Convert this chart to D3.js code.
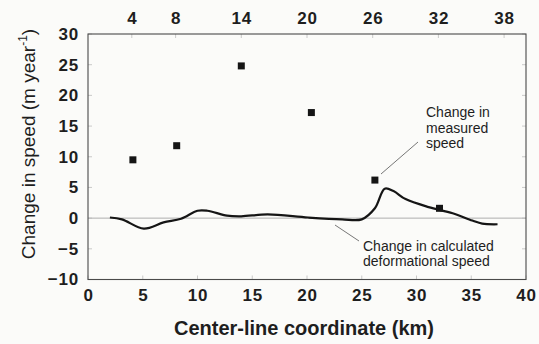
<!DOCTYPE html>
<html>
<head>
<meta charset="utf-8">
<script src="https://cdn.jsdelivr.net/npm/d3@7"></script>
<style>
  html, body { margin: 0; padding: 0; background: #fbfbf9; }
  svg { display: block; }
  text { font-family: "Liberation Sans", Arial, sans-serif; fill: #1e1e1e; }
</style>
</head>
<body>
<svg id="chart" width="539" height="344"></svg>
<script>
// Measured change in speed at the survey points along the center line
const measuredKm = [4.1, 8.1, 14, 20.4, 26.2, 32.1];
const measuredChange = [9.5, 11.8, 24.8, 17.2, 6.2, 1.6];

// Calculated change in deformational speed along the center line
const calcKm = [2.0, 3.1, 5.1, 6.9, 8.5, 10.0, 10.9, 12.7, 14.0, 16.4, 20.1, 23.2, 25.0, 26.2, 27.1, 27.9, 29.0, 31.1, 33.3, 35.1, 36.0, 37.4];
const calcChange = [0.1, -0.2, -1.7, -0.7, -0.1, 1.2, 1.2, 0.4, 0.3, 0.6, 0.1, -0.2, -0.2, 1.6, 4.8, 4.4, 3.1, 1.8, 0.8, -0.4, -0.9, -1.0];

// Axis ticks
const xTicks = [0, 5, 10, 15, 20, 25, 30, 35, 40];
const yTicks = [-10, -5, 0, 5, 10, 15, 20, 25, 30];
const topTicks = [4, 8, 14, 20, 26, 32, 38];

const svg = d3.select("#chart");
const plotL = 88, plotR = 526, plotT = 34, plotB = 279.5;

const x = d3.scaleLinear().domain([0, 40]).range([plotL, plotR]);
const y = d3.scaleLinear().domain([-10, 30]).range([plotB, plotT]);

// zero reference line
svg.append("line")
  .attr("x1", plotL).attr("x2", plotR)
  .attr("y1", y(0)).attr("y2", y(0))
  .attr("stroke", "#9a9a9a").attr("stroke-width", 0.8);

function styleLabels(g) {
  g.select(".domain").remove();
  g.selectAll("text").attr("font-size", 17).attr("font-weight", "bold")
    .attr("letter-spacing", 0.8)
    .style("font-family", "'Liberation Sans', Arial, sans-serif").attr("fill", "#1e1e1e");
}

// bottom axis labels
const xAxis = d3.axisBottom(x).tickValues(xTicks).tickSize(0).tickPadding(9.5);
svg.append("g").attr("transform", `translate(0,${plotB})`).call(xAxis).call(styleLabels);

// left axis labels
const yAxis = d3.axisLeft(y).tickValues(yTicks).tickSize(0).tickPadding(9);
svg.append("g").attr("transform", `translate(${plotL},0)`).call(yAxis).call(styleLabels);

// top axis: coordinates of the measurement points
const xTop = d3.axisTop(x).tickValues(topTicks).tickSize(0).tickPadding(10);
svg.append("g").attr("transform", `translate(0,${plotT})`).call(xTop).call(styleLabels);

// faint inner tick marks
const tickG = svg.append("g").attr("stroke", "#b5b5b5").attr("stroke-width", 0.7);
xTicks.forEach(v => {
  tickG.append("line").attr("x1", x(v)).attr("x2", x(v)).attr("y1", plotB).attr("y2", plotB - 4);
});
topTicks.forEach(v => {
  tickG.append("line").attr("x1", x(v)).attr("x2", x(v)).attr("y1", plotT).attr("y2", plotT + 4);
});
yTicks.forEach(v => {
  tickG.append("line").attr("x1", plotL).attr("x2", plotL + 4).attr("y1", y(v)).attr("y2", y(v));
  tickG.append("line").attr("x1", plotR).attr("x2", plotR - 4).attr("y1", y(v)).attr("y2", y(v));
});

// frame
svg.append("rect")
  .attr("x", plotL).attr("y", plotT)
  .attr("width", plotR - plotL).attr("height", plotB - plotT)
  .attr("fill", "none").attr("stroke", "#4a4a4a").attr("stroke-width", 1.1);

// calculated deformational speed line
const line = d3.line().x((d, i) => x(calcKm[i])).y(d => y(d)).curve(d3.curveCatmullRom.alpha(0.5));
svg.append("path")
  .datum(calcChange)
  .attr("d", line)
  .attr("fill", "none").attr("stroke", "#151515").attr("stroke-width", 2.2)
  .attr("stroke-linejoin", "round");

// measured points
svg.append("g").selectAll("rect")
  .data(measuredChange)
  .join("rect")
  .attr("x", (d, i) => x(measuredKm[i]) - 3.5)
  .attr("y", d => y(d) - 3.5)
  .attr("width", 7).attr("height", 7)
  .attr("fill", "#151515");

// annotations with leader lines
svg.append("line").attr("x1", 418).attr("y1", 142).attr("x2", 381).attr("y2", 174)
  .attr("stroke", "#666").attr("stroke-width", 0.9);
svg.append("line").attr("x1", 335).attr("y1", 225).attr("x2", 359).attr("y2", 241)
  .attr("stroke", "#666").attr("stroke-width", 0.9);

const ann1 = svg.append("text").attr("font-size", 14).attr("fill", "#333");
["Change in", "measured", "speed"].forEach((s, i) => {
  ann1.append("tspan").attr("x", 426).attr("y", 117 + i * 15.5).text(s);
});
const ann2 = svg.append("text").attr("font-size", 14).attr("fill", "#333");
["Change in calculated", "deformational speed"].forEach((s, i) => {
  ann2.append("tspan").attr("x", 363).attr("y", 251 + i * 15).text(s);
});

// axis titles
svg.append("text")
  .attr("x", 304).attr("y", 335)
  .attr("text-anchor", "middle")
  .attr("font-size", 20).attr("font-weight", "bold")
  .text("Center-line coordinate (km)");

const yt = svg.append("text")
  .attr("transform", "translate(35,144) rotate(-90)")
  .attr("text-anchor", "middle")
  .attr("font-size", 19);
yt.append("tspan").text("Change in speed (m year");
yt.append("tspan").attr("font-size", 12).attr("dy", -8).text("-1");
yt.append("tspan").attr("dy", 8).text(")");
</script>
</body>
</html>
